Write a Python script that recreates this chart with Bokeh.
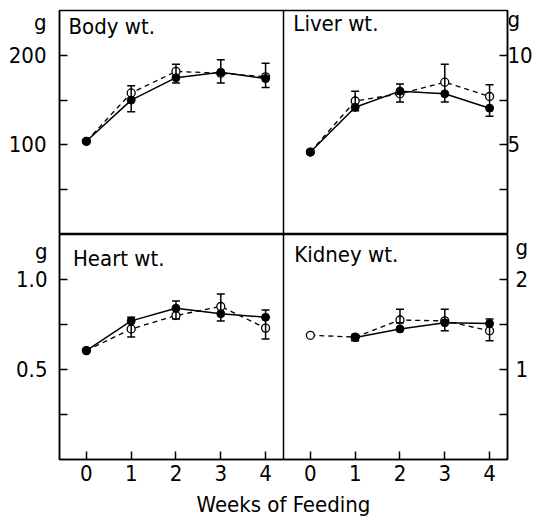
from bokeh.plotting import figure
from bokeh.models import (Range1d, LinearAxis, FixedTicker, Whisker, ColumnDataSource,
                          Label, Span, TeeHead)
from bokeh.layouts import column
from bokeh.embed import file_html
from bokeh.resources import INLINE

# ---------------- data ----------------
weeks = [0, 1, 2, 3, 4]
err_weeks = [1, 2, 3, 4]

body_solid = [104, 150, 175, 181, 174]
body_open = [104, 158, 182, 180, 176]
body_err_hi = [166, 190, 195, 191]
body_err_lo = [137, 169, 169, 164]

liver_solid = [4.6, 7.1, 8.0, 7.85, 7.05]
liver_open = [4.6, 7.45, 7.85, 8.5, 7.7]
liver_err_hi = [8.0, 8.4, 9.5, 8.35]
liver_err_lo = [6.9, 7.4, 7.4, 6.6]

heart_solid = [0.605, 0.77, 0.84, 0.81, 0.79]
heart_open = [0.605, 0.725, 0.80, 0.85, 0.73]
heart_err_hi = [0.79, 0.88, 0.92, 0.83]
heart_err_lo = [0.68, 0.78, 0.77, 0.67]

kidney_weeks_solid = [1, 2, 3, 4]
kidney_solid = [1.355, 1.45, 1.52, 1.51]
kidney_open = [1.38, 1.36, 1.55, 1.54, 1.43]
kidney_err_hi = [1.39, 1.67, 1.67, 1.56]
kidney_err_lo = [1.32, 1.52, 1.43, 1.32]

panel_titles = ["Body wt.", "Liver wt.", "Heart wt.", "Kidney wt."]
unit_label = "g"
x_title = "Weeks of Feeding"

body_ticks, body_labels, body_minor = [100, 200, 237], ["100", "200", unit_label], [50, 100, 150, 200]
liver_ticks, liver_labels, liver_minor = [5, 10, 11.97], ["5", "10", unit_label], [2.5, 5, 7.5, 10]
heart_ticks, heart_labels, heart_minor = [0.5, 1.0, 1.158], ["0.5", "1.0", unit_label], [0.25, 0.5, 0.75, 1.0]
kidney_ticks, kidney_labels, kidney_minor = [1, 2, 2.36], ["1", "2", unit_label], [0.5, 1, 1.5, 2]

# ---------------- styling ----------------
FONT = "DejaVu Sans Condensed"
FS = "22px"
X0, W = -0.6, 5.0
LW = 1.5


def add_y_axes(p, side, range_name, minor, ticks, labels, standoff):
    kw = {"y_range_name": range_name} if range_name else {}
    inner = LinearAxis(ticker=FixedTicker(ticks=[], minor_ticks=minor), **kw)
    inner.minor_tick_in = 8
    inner.minor_tick_out = 0
    inner.major_tick_out = 0
    inner.major_label_standoff = 0
    inner.minor_tick_line_width = LW
    inner.axis_line_width = LW
    p.add_layout(inner, side)
    outer = LinearAxis(ticker=FixedTicker(ticks=ticks, minor_ticks=[]),
                       major_label_overrides=dict(zip(ticks, labels)), **kw)
    outer.axis_line_color = None
    outer.major_tick_line_color = None
    outer.major_tick_in = 0
    outer.major_tick_out = 0
    outer.minor_tick_out = 0
    outer.major_label_standoff = standoff
    outer.major_label_text_font = FONT
    outer.major_label_text_font_size = FS
    outer.major_label_text_color = "black"
    p.add_layout(outer, side)


def draw_panel(p, xs_solid, ys_solid, xs_open, ys_open, ehi, elo, xr=None, yr=None):
    kw = {}
    if xr:
        kw["x_range_name"] = xr
    if yr:
        kw["y_range_name"] = yr
    p.line(xs_open, ys_open, line_color="black", line_width=1.3, line_dash="5 4", **kw)
    src = ColumnDataSource(dict(x=err_weeks, hi=ehi, lo=elo))
    wk = Whisker(base="x", upper="hi", lower="lo", source=src, line_width=LW,
                 upper_head=TeeHead(size=8, line_width=LW),
                 lower_head=TeeHead(size=8, line_width=LW), level="glyph", **kw)
    p.add_layout(wk)
    p.line(xs_solid, ys_solid, line_color="black", line_width=LW, **kw)
    p.scatter(xs_open, ys_open, size=8, marker="circle", fill_color="white",
              line_color="black", line_width=1.3, **kw)
    p.scatter(xs_solid, ys_solid, size=8, marker="circle", fill_color="black",
              line_color="black", **kw)


def add_text(p, x, y, text, xr=None, yr=None):
    kw = {}
    if xr:
        kw["x_range_name"] = xr
    if yr:
        kw["y_range_name"] = yr
    p.add_layout(Label(x=x, y=y, text=text, text_font=FONT, text_font_size=FS,
                       text_color="black", text_align="left",
                       text_baseline="alphabetic", **kw))


def base_fig(h, ymax_left, ymax_right, top_border):
    p = figure(frame_width=448, frame_height=h,
               x_range=Range1d(X0, X0 + 2 * W), y_range=Range1d(0, ymax_left),
               output_backend="svg", toolbar_location=None,
               x_axis_location=None, y_axis_location=None,
               min_border_left=59, min_border_right=0,
               min_border_top=top_border, min_border_bottom=0)
    p.extra_x_ranges = {"xr": Range1d(X0 - W, X0 + W)}
    p.extra_y_ranges = {"yr": Range1d(0, ymax_right)}
    p.grid.visible = False
    p.outline_line_color = "black"
    p.outline_line_width = LW
    p.background_fill_color = "white"
    p.border_fill_color = "white"
    p.add_layout(Span(location=X0 + W, dimension="height", line_color="black",
                      line_width=LW))
    return p


# ---------------- top row: body / liver ----------------
top = base_fig(224, 250, 12.5, 10)
add_y_axes(top, "left", None, body_minor, body_ticks, body_labels, 13)
add_y_axes(top, "right", "yr", liver_minor, liver_ticks, liver_labels, 0)

draw_panel(top, weeks, body_solid, weeks, body_open, body_err_hi, body_err_lo)
draw_panel(top, weeks, liver_solid, weeks, liver_open, liver_err_hi, liver_err_lo,
           xr="xr", yr="yr")
add_text(top, -0.4, 232, panel_titles[0])
add_text(top, -0.38, 11.77, panel_titles[1], xr="xr", yr="yr")

# ---------------- bottom row: heart / kidney ----------------
bot = base_fig(225, 1.25, 2.5, 0)
add_y_axes(bot, "left", None, heart_minor, heart_ticks, heart_labels, 12)
add_y_axes(bot, "right", "yr", kidney_minor, kidney_ticks, kidney_labels, 8)

xt = weeks + [w + W for w in weeks]
xa = LinearAxis(ticker=FixedTicker(ticks=[int(t) for t in xt], minor_ticks=[]),
                major_label_overrides={int(w + W): str(w) for w in weeks})
xa.major_tick_in = 8
xa.major_tick_out = 0
xa.minor_tick_out = 0
xa.major_tick_line_width = LW
xa.axis_line_width = LW
xa.major_label_text_font = FONT
xa.major_label_text_font_size = FS
xa.major_label_text_color = "black"
xa.major_label_standoff = 5
xa.axis_label = x_title
xa.axis_label_text_font = FONT
xa.axis_label_text_font_size = FS
xa.axis_label_text_font_style = "normal"
xa.axis_label_text_color = "black"
xa.axis_label_standoff = 8
bot.add_layout(xa, "below")

draw_panel(bot, weeks, heart_solid, weeks, heart_open, heart_err_hi, heart_err_lo)
draw_panel(bot, kidney_weeks_solid, kidney_solid, weeks, kidney_open,
           kidney_err_hi, kidney_err_lo, xr="xr", yr="yr")
add_text(bot, -0.3, 1.117, panel_titles[2])
add_text(bot, -0.36, 2.28, panel_titles[3], xr="xr", yr="yr")

page = column(top, bot, spacing=0)
open("out.html", "w").write(file_html(page, INLINE))
